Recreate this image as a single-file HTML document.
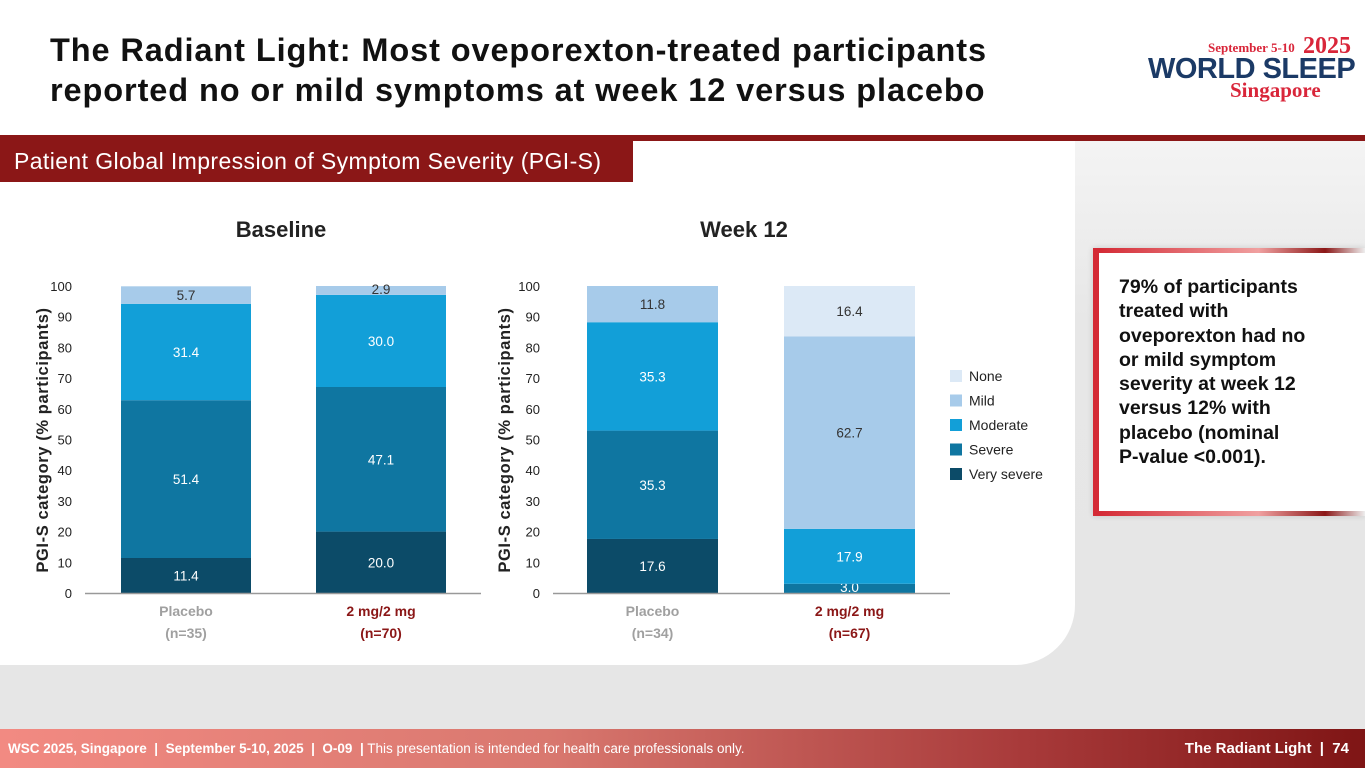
<!DOCTYPE html>
<html><head><meta charset="utf-8">
<style>
body{margin:0;width:1365px;height:768px;overflow:hidden;font-family:"Liberation Sans",sans-serif;background:#fff;position:relative}
.abs{position:absolute}
</style></head><body>
<div class="abs" style="left:0;top:140px;width:1365px;height:590px;background:linear-gradient(#f4f4f4,#e7e7e7 30%,#e6e6e6)"></div>
<div class="abs" style="left:0;top:135px;width:1365px;height:6px;background:#8b1717"></div>
<div class="abs" style="left:0;top:141px;width:1075px;height:524px;background:#fff;border-bottom-right-radius:60px"></div>
<div class="abs" style="left:50px;top:30px;font-size:32.5px;letter-spacing:0.9px;font-weight:bold;color:#111;line-height:40px;white-space:nowrap">The Radiant Light: Most oveporexton-treated participants<br>reported no or mild symptoms at week 12 versus placebo</div>
<div class="abs" style="left:1148px;top:36px;width:210px;height:65px">
 <div class="abs" style="left:60px;top:4px;font-family:'Liberation Serif',serif;font-weight:bold;color:#d9263a;font-size:13px">September 5-10</div>
 <div class="abs" style="left:155px;top:-3px;font-family:'Liberation Serif',serif;font-weight:bold;color:#d9263a;font-size:24px">2025</div>
 <div class="abs" style="left:0;top:17px;font-weight:900;color:#1b3a66;font-size:29px;letter-spacing:-0.5px;white-space:nowrap">WORLD SLEEP</div>
 <div class="abs" style="left:82px;top:42px;font-family:'Liberation Serif',serif;font-weight:bold;color:#d9263a;font-size:21px">Singapore</div>
</div>
<div class="abs" style="left:0;top:140px;width:633px;height:42px;background:#8b1717;color:#fff;font-size:23px;letter-spacing:0.4px;line-height:42px;padding-left:14px;box-sizing:border-box;white-space:nowrap">Patient Global Impression of Symptom Severity (PGI-S)</div>

<div class="abs" style="left:1093px;top:248px;width:272px;height:268px;background:#fff;border-left:6px solid #d42a35;box-sizing:border-box;box-shadow:0 0 6px rgba(0,0,0,.15)">
 <div class="abs" style="left:0;top:0;width:100%;height:5px;background:linear-gradient(90deg,#d42a35,#f0a0a0 60%,#8b1717 85%,#eee)"></div>
 <div class="abs" style="left:0;bottom:0;width:100%;height:5px;background:linear-gradient(90deg,#d42a35,#f0a0a0 60%,#8b1717 85%,#eee)"></div>
 <div class="abs" style="left:20px;top:27px;font-size:19.5px;font-weight:bold;color:#111;line-height:24.3px;white-space:nowrap">79% of participants<br>treated with<br>oveporexton had no<br>or mild symptom<br>severity at week 12<br>versus 12% with<br>placebo (nominal<br>P-value &lt;0.001).</div>
</div>

<div class="abs" style="left:0;top:729px;width:1365px;height:39px;background:linear-gradient(90deg,#f28a82,#d9786f 40%,#a83a3a 75%,#7f1515);color:#fff;font-size:13.5px;line-height:39px;white-space:nowrap">
 <span class="abs" style="left:8px"><b>WSC 2025, Singapore &nbsp;|&nbsp; September 5-10, 2025 &nbsp;|&nbsp; O-09 &nbsp;|</b> This presentation is intended for health care professionals only.</span>
 <span class="abs" style="right:16px;font-size:15px;font-weight:bold">The Radiant Light &nbsp;|&nbsp; 74</span>
</div>

<svg class="abs" id="charts" style="left:0;top:0" width="1365" height="768"></svg>
<script>
const categories = ["None","Mild","Moderate","Severe","Very severe"];
const colors = ["#dce9f6","#a7cbea","#129fd8","#0f76a1","#0c4b68"];
const labelColors = ["#333","#333","#fff","#fff","#fff"];
const yTicks = [0,10,20,30,40,50,60,70,80,90,100];
// bottom-up order: very severe, severe, moderate, mild, none
const baselinePlacebo = [11.4,51.4,31.4,5.7,0];
const baseline2mg = [20.0,47.1,30.0,2.9,0];
const week12Placebo = [17.6,35.3,35.3,11.8,0];
const week12_2mg = [0,3.0,17.9,62.7,16.4];
const groupNames = ["Placebo","2 mg/2 mg"];
const baselineN = ["(n=35)","(n=70)"];
const week12N = ["(n=34)","(n=67)"];

const svg = document.getElementById('charts');
const NS = "http://www.w3.org/2000/svg";
function mk(tag, attrs, text){const e=document.createElementNS(NS,tag);for(const k in attrs)e.setAttribute(k,attrs[k]);if(text!==undefined)e.textContent=text;svg.appendChild(e);return e;}
const y0=593, y100=286;
function yScale(v){return y0-(y0-y100)*v/100;}
const stackColorIdx=[4,3,2,1,0];

function drawChart(cfg){
  const t=mk('text',{x:cfg.cx,y:237,'text-anchor':'middle','font-size':22,'font-weight':'bold',fill:'#222'},cfg.title);
  
  
  yTicks.forEach(v=>{
    const tl=mk('text',{x:cfg.tickX,y:yScale(v)+5,'text-anchor':'end','font-size':13,fill:'#222'},String(v));
    
    
  });
  const yt=mk('text',{x:0,y:0,transform:`translate(${cfg.titleX},440) rotate(-90)`,'text-anchor':'middle','font-size':16.5,'font-weight':'bold','letter-spacing':0.6,fill:'#222'},'PGI-S category (% participants)');
  
  
  cfg.series.forEach((vals,bi)=>{
    const x=cfg.barX[bi];
    let cum=0;
    vals.forEach((v,si)=>{
      if(v<=0)return;
      const ci=stackColorIdx[si];
      const top=yScale(cum+v), bot=yScale(cum);
      const r=mk('rect',{x:x,y:top,width:cfg.barW,height:bot-top,fill:colors[ci]});
      
      
      const ly = (bot-top)<16 ? bot-1 : (top+bot)/2+5;
      const l=mk('text',{x:x+cfg.barW/2,y:ly,'text-anchor':'middle','font-size':13.5,fill:labelColors[ci]},v.toFixed(1));
      
      
      cum+=v;
    });
    const col = bi===0?'#a0a0a0':'#8b1717';
    const g=mk('text',{x:x+cfg.barW/2,y:616,'text-anchor':'middle','font-size':14,'font-weight':'bold',fill:col},groupNames[bi]);
    
    
    const n=mk('text',{x:x+cfg.barW/2,y:638,'text-anchor':'middle','font-size':14,'font-weight':'bold',fill:col},cfg.n[bi]);
    
    
  });
  const ax=mk('line',{x1:cfg.axX1,x2:cfg.axX2,y1:y0+0.5,y2:y0+0.5,stroke:'#999','stroke-width':1.5});
  
  
}
drawChart({key:'baseline',title:'Baseline',cx:281,tickX:72,titleX:48,series:[baselinePlacebo,baseline2mg],barX:[121,316],barW:130,n:baselineN,axX1:85,axX2:481});
drawChart({key:'week12',title:'Week 12',cx:744,tickX:540,titleX:510,series:[week12Placebo,week12_2mg],barX:[587,784],barW:131,n:week12N,axX1:553,axX2:950});

categories.forEach((c,i)=>{
  const y=376+i*24.5;
  const r=mk('rect',{x:950,y:y-6,width:12,height:12,fill:colors[i]});
  
  
  const t=mk('text',{x:969,y:y+5,'font-size':14,fill:'#222'},c);
  
  
});
</script>
</body></html>
